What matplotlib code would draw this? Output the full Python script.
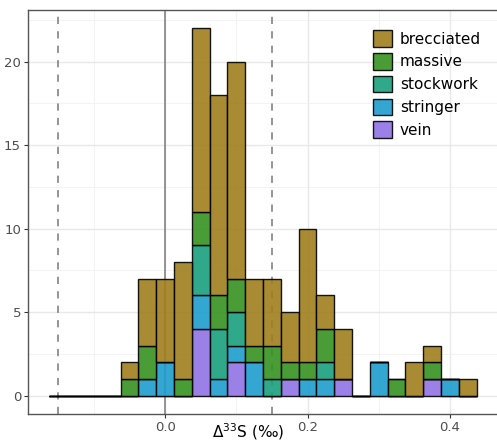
import numpy as np
import matplotlib
matplotlib.use("Agg")
import matplotlib.pyplot as plt
from matplotlib.patches import Patch

# bin centres of the Δ33S histogram (binwidth 0.025)
bin_centers = [-0.150, -0.125, -0.100, -0.075, -0.050, -0.025, 0.000, 0.025,
               0.050, 0.075, 0.100, 0.125, 0.150, 0.175, 0.200, 0.225,
               0.250, 0.275, 0.300, 0.325, 0.350, 0.375, 0.400, 0.425]
bin_width = 0.025

# counts per style, stacked from the bottom (vein) to the top (brecciated)
vein       = [0, 0, 0, 0, 0, 0, 0, 0, 4, 0, 2, 0, 0, 1, 0, 0, 1, 0, 0, 0, 0, 1, 0, 0]
stringer   = [0, 0, 0, 0, 0, 1, 2, 0, 2, 1, 1, 2, 0, 0, 1, 1, 0, 0, 2, 0, 0, 0, 1, 0]
stockwork  = [0, 0, 0, 0, 0, 0, 0, 0, 3, 3, 2, 0, 1, 0, 0, 1, 0, 0, 0, 0, 0, 0, 0, 0]
massive    = [0, 0, 0, 0, 1, 2, 0, 1, 2, 2, 2, 1, 2, 1, 1, 2, 0, 0, 0, 1, 0, 1, 0, 0]
brecciated = [0, 0, 0, 0, 1, 4, 5, 7, 11, 12, 13, 4, 4, 3, 8, 2, 3, 0, 0, 0, 2, 1, 0, 1]

styles = ["vein", "stringer", "stockwork", "massive", "brecciated"]
series = [vein, stringer, stockwork, massive, brecciated]
colors = {"brecciated": "#9f7e1d", "massive": "#369320", "stockwork": "#18a07c",
          "stringer": "#1d9ccc", "vein": "#8f72e5"}

vlines_solid = [0.0]
vlines_dashed = [-0.15, 0.15]

fig = plt.figure(figsize=(4.97, 4.42), dpi=100)
ax = fig.add_axes([28 / 497, 28 / 442, 470 / 497, 404 / 442])

# theme_bw-like background
ax.set_axisbelow(True)
ax.set_xticks([0.0, 0.2, 0.4])
ax.set_xticks([-0.1, 0.1, 0.3], minor=True)
ax.set_yticks([0, 5, 10, 15, 20])
ax.set_yticks([2.5, 7.5, 12.5, 17.5, 22.5], minor=True)
ax.grid(True, which="major", color="#e8e8e8", linewidth=1.0)
ax.grid(True, which="minor", color="#f1f1f1", linewidth=0.6)
ax.tick_params(which="minor", length=0)
ax.tick_params(which="major", length=3, color="#333333", labelcolor="#4d4d4d",
               labelsize=9.5, width=0.8, pad=2)
ax.set_xticklabels(["0.0", "0.2", "0.4"])

for x in vlines_solid:
    ax.axvline(x, color="#8c8c8c", linewidth=1.3, zorder=1)
for x in vlines_dashed:
    ax.axvline(x, color="#8c8c8c", linewidth=1.3, linestyle=(0, (4, 4)), zorder=1)

bottom = np.zeros(len(bin_centers))
for name, vals in zip(styles, series):
    ax.bar(bin_centers, vals, width=bin_width, bottom=bottom,
           color=colors[name], alpha=0.9, edgecolor="black", linewidth=1.0,
           zorder=2)
    bottom += np.array(vals)

ax.set_xlim(-0.1925, 0.4675)
ax.set_ylim(-1.1, 23.1)

for side in ["top", "left", "bottom", "right"]:
    ax.spines[side].set_color("#555555")
    ax.spines[side].set_linewidth(1.0)

ax.set_xlabel("Δ$^{33}$S (‰)", fontsize=11, color="black")
ax.xaxis.set_label_coords(0.468, -0.018)

handles = [Patch(facecolor=colors[n], edgecolor="black", alpha=0.9, linewidth=1.0, label=n)
           for n in ["brecciated", "massive", "stockwork", "stringer", "vein"]]
leg = ax.legend(handles=handles, loc="upper left", bbox_to_anchor=(0.72, 0.965),
                frameon=False, fontsize=11, handlelength=1.3, handleheight=1.3,
                handletextpad=0.5, labelspacing=0.4, borderaxespad=0)

plt.savefig("out.png", dpi=100)
